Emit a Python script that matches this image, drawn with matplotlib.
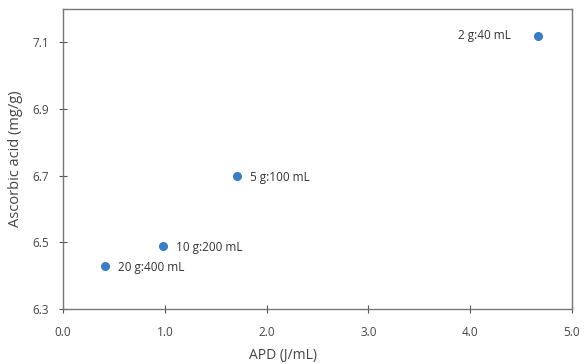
import matplotlib.pyplot as plt

# data
apd = [0.41, 0.98, 1.71, 4.67]
ascorbic = [6.43, 6.49, 6.70, 7.12]
ratios = ['20 g:400 mL', '10 g:200 mL', '5 g:100 mL', '2 g:40 mL']

x_ticks = [0.0, 1.0, 2.0, 3.0, 4.0, 5.0]
y_ticks = [6.3, 6.5, 6.7, 6.9, 7.1]


def main():
    plt.rcParams['font.family'] = ['Open Sans', 'DejaVu Sans']
    fig = plt.figure(figsize=(5.87, 3.64), dpi=100)
    ax = fig.add_axes([63 / 587, 1 - 309 / 364, 509 / 587, 300 / 364])

    ax.plot(apd, ascorbic, 'o', color='#3a7dc4', markersize=5.5)

    for x, y, t in zip(apd, ascorbic, ratios):
        if x > 4:
            ax.annotate(t, (x, y), xytext=(-20, 0), textcoords='offset points',
                        ha='right', va='center', fontsize=8.5, color='#333333')
        else:
            ax.annotate(t, (x, y), xytext=(9.5, -1), textcoords='offset points',
                        ha='left', va='center', fontsize=8.5, color='#333333')

    ax.set_xlim(0, 5)
    ax.set_ylim(6.3, 7.2)
    ax.set_xticks(x_ticks)
    ax.set_xticklabels(['%.1f' % v for v in x_ticks])
    ax.set_yticks(y_ticks)
    ax.set_yticklabels(['%.1f' % v for v in y_ticks])
    ax.tick_params(direction='inout', length=6, width=0.8, colors='#555555',
                   labelsize=8.5, labelcolor='#444444')
    ax.tick_params(axis='x', pad=9)
    ax.tick_params(axis='y', pad=7)
    for s in ax.spines.values():
        s.set_color('#777777')
        s.set_linewidth(1.0)

    ax.set_ylabel('Ascorbic acid (mg/g)', fontsize=10.5, color='#444444', labelpad=7)
    fig.text(283 / 587, 1 - 356 / 364, 'APD (J/mL)', ha='center', va='center',
             fontsize=10, color='#444444')

    fig.savefig('out.png', dpi=100)


if __name__ == "__main__":
    main()
